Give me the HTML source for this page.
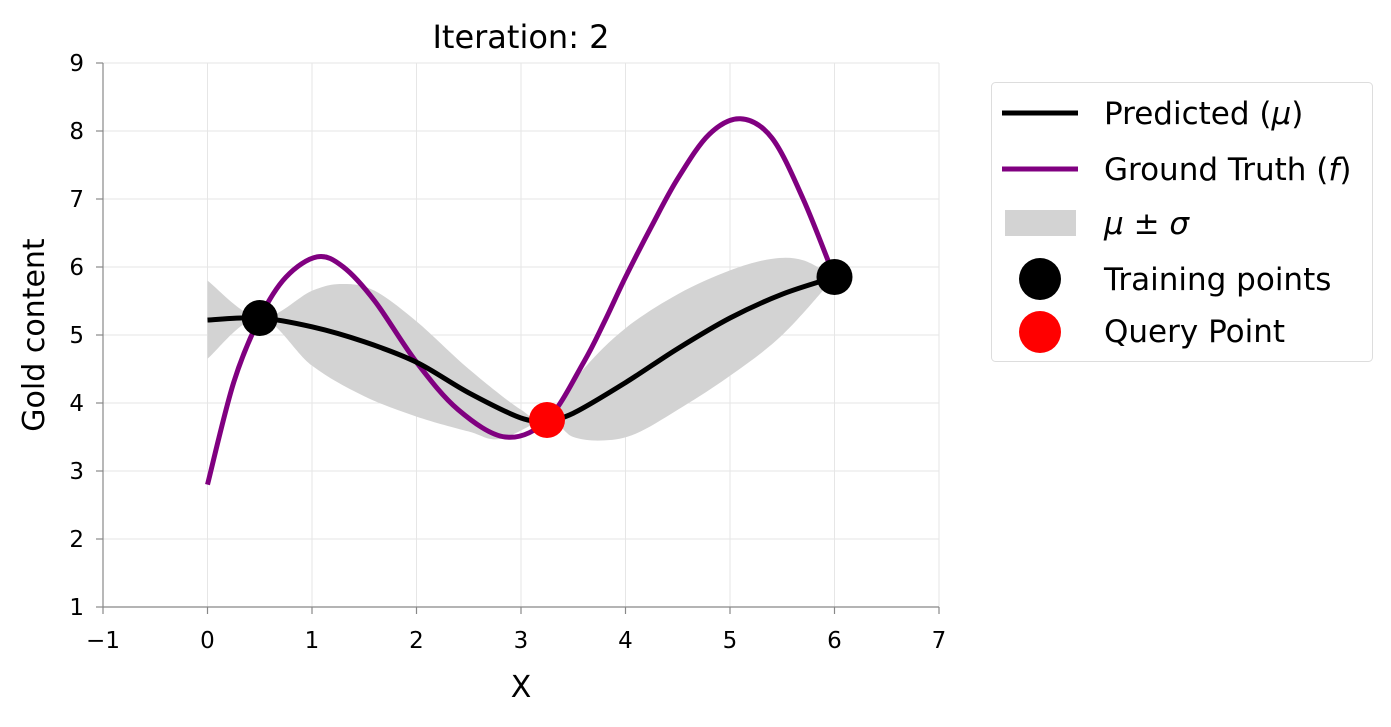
<!DOCTYPE html>
<html><head><meta charset="utf-8"><style>
html,body{margin:0;padding:0;background:#fff;}
svg text{font-family:"DejaVu Sans","Liberation Sans",sans-serif;fill:#000;}
</style></head><body>
<svg id="s" width="1391" height="722" xmlns="http://www.w3.org/2000/svg">
<g stroke="#e6e6e6" stroke-width="1">
<line x1="207.5" y1="63" x2="207.5" y2="607"/><line x1="312" y1="63" x2="312" y2="607"/><line x1="416.5" y1="63" x2="416.5" y2="607"/><line x1="521" y1="63" x2="521" y2="607"/><line x1="625.5" y1="63" x2="625.5" y2="607"/><line x1="730" y1="63" x2="730" y2="607"/><line x1="834.5" y1="63" x2="834.5" y2="607"/><line x1="939" y1="63" x2="939" y2="607"/>
<line x1="103" y1="63" x2="939" y2="63"/><line x1="103" y1="131" x2="939" y2="131"/><line x1="103" y1="199" x2="939" y2="199"/><line x1="103" y1="267" x2="939" y2="267"/><line x1="103" y1="335" x2="939" y2="335"/><line x1="103" y1="403" x2="939" y2="403"/><line x1="103" y1="471" x2="939" y2="471"/><line x1="103" y1="539" x2="939" y2="539"/>
</g>
<path id="band" fill="#d3d3d3" stroke="none"/>
<path id="gt" fill="none" stroke="#800080" stroke-width="5"/>
<path id="mu" fill="none" stroke="#000" stroke-width="5"/>
<circle cx="259.75" cy="318" r="18" fill="#000"/>
<circle cx="834.5" cy="277" r="18" fill="#000"/>
<circle cx="547" cy="420" r="18" fill="#ff0000"/>
<g stroke="#888" stroke-width="1.2">
<line x1="103" y1="63" x2="103" y2="607"/><line x1="103" y1="607" x2="939" y2="607"/>
</g>
<g stroke="#888" stroke-width="1.2">
<line x1="103" y1="607" x2="103" y2="614"/><line x1="207.5" y1="607" x2="207.5" y2="614"/><line x1="312" y1="607" x2="312" y2="614"/><line x1="416.5" y1="607" x2="416.5" y2="614"/><line x1="521" y1="607" x2="521" y2="614"/><line x1="625.5" y1="607" x2="625.5" y2="614"/><line x1="730" y1="607" x2="730" y2="614"/><line x1="834.5" y1="607" x2="834.5" y2="614"/><line x1="939" y1="607" x2="939" y2="614"/>
<line x1="96" y1="63" x2="103" y2="63"/><line x1="96" y1="131" x2="103" y2="131"/><line x1="96" y1="199" x2="103" y2="199"/><line x1="96" y1="267" x2="103" y2="267"/><line x1="96" y1="335" x2="103" y2="335"/><line x1="96" y1="403" x2="103" y2="403"/><line x1="96" y1="471" x2="103" y2="471"/><line x1="96" y1="539" x2="103" y2="539"/><line x1="96" y1="607" x2="103" y2="607"/>
</g>
<g font-size="23" text-anchor="middle">
<text x="103" y="648">−1</text><text x="207.5" y="648">0</text><text x="312" y="648">1</text><text x="416.5" y="648">2</text><text x="521" y="648">3</text><text x="625.5" y="648">4</text><text x="730" y="648">5</text><text x="834.5" y="648">6</text><text x="939" y="648">7</text>
</g>
<g font-size="23" text-anchor="end">
<text x="84" y="71">9</text><text x="84" y="139">8</text><text x="84" y="207">7</text><text x="84" y="275">6</text><text x="84" y="343">5</text><text x="84" y="411">4</text><text x="84" y="479">3</text><text x="84" y="547">2</text><text x="84" y="615">1</text>
</g>
<text x="521" y="697" font-size="30" text-anchor="middle">X</text>
<text transform="translate(44,335) rotate(-90)" font-size="30" text-anchor="middle">Gold content</text>
<text x="521" y="48" font-size="32" text-anchor="middle">Iteration: 2</text>
<rect x="991.5" y="82.5" width="381" height="279" rx="4" fill="#fff" stroke="#ddd"/>
<line x1="1002" y1="113" x2="1078" y2="113" stroke="#000" stroke-width="5"/>
<line x1="1002" y1="169" x2="1078" y2="169" stroke="#800080" stroke-width="5"/>
<rect x="1005" y="210" width="71" height="26" fill="#d3d3d3"/>
<circle cx="1040" cy="279" r="21" fill="#000"/>
<circle cx="1040" cy="332" r="21" fill="#ff0000"/>
<g font-size="31">
<text x="1104" y="124">Predicted (<tspan font-style="italic">μ</tspan>)</text>
<text x="1104" y="180">Ground Truth (<tspan font-style="italic">f</tspan>)</text>
<text x="1104" y="234" font-style="italic">μ ± σ</text>
<text x="1104" y="290">Training points</text>
<text x="1104" y="342">Query Point</text>
</g>
</svg>
<script>
function X(x){return 207.5+104.5*x;}function Y(y){return 335-68*(y-5);}
function cr(pts,start){var p=pts.map(function(a){return [X(a[0]),Y(a[1])];});var d=start?("M"+p[0][0]+","+p[0][1]):"";
for(var i=0;i<p.length-1;i++){var p0=p[Math.max(i-1,0)],p1=p[i],p2=p[i+1],p3=p[Math.min(i+2,p.length-1)];
var c1=[p1[0]+(p2[0]-p0[0])/6,p1[1]+(p2[1]-p0[1])/6],c2=[p2[0]-(p3[0]-p1[0])/6,p2[1]-(p3[1]-p1[1])/6];
d+=" C"+c1+" "+c2+" "+p2;}return d;}
var gt=[[0,2.8],[0.25,4.3],[0.5,5.25],[0.75,5.85],[1.05,6.15],[1.3,6.0],[1.6,5.5],[2.0,4.6],[2.4,3.9],[2.85,3.5],[3.25,3.75],[3.6,4.6],[3.8,5.2],[4.0,5.85],[4.25,6.6],[4.5,7.3],[4.8,7.95],[5.1,8.18],[5.4,7.9],[5.7,7.0],[6.0,5.85]];
var mu=[[0,5.22],[0.5,5.25],[1,5.12],[1.5,4.9],[2,4.6],[2.5,4.15],[3,3.78],[3.25,3.75],[3.5,3.85],[4,4.3],[4.5,4.8],[5,5.25],[5.5,5.6],[6,5.85]];
var up=[[0,5.8],[0.5,5.25],[1,5.65],[1.3,5.75],[1.6,5.65],[2,5.2],[2.5,4.5],[3,3.9],[3.25,3.75],[3.6,4.5],[4,5.1],[4.5,5.6],[5,5.95],[5.4,6.12],[5.7,6.1],[6,5.85]];
var lo=[[0,4.65],[0.5,5.25],[1,4.55],[1.5,4.1],[2,3.8],[2.5,3.58],[2.8,3.47],[3.25,3.75],[3.5,3.5],[3.8,3.45],[4.1,3.55],[4.5,3.9],[5,4.4],[5.5,5.0],[6,5.85]];
document.getElementById('gt').setAttribute('d',cr(gt,1));
document.getElementById('mu').setAttribute('d',cr(mu,1));
document.getElementById('band').setAttribute('d',cr(up,1)+" L"+X(6)+","+Y(5.85)+cr(lo.slice().reverse(),0)+" Z");
</script>
</body></html>
